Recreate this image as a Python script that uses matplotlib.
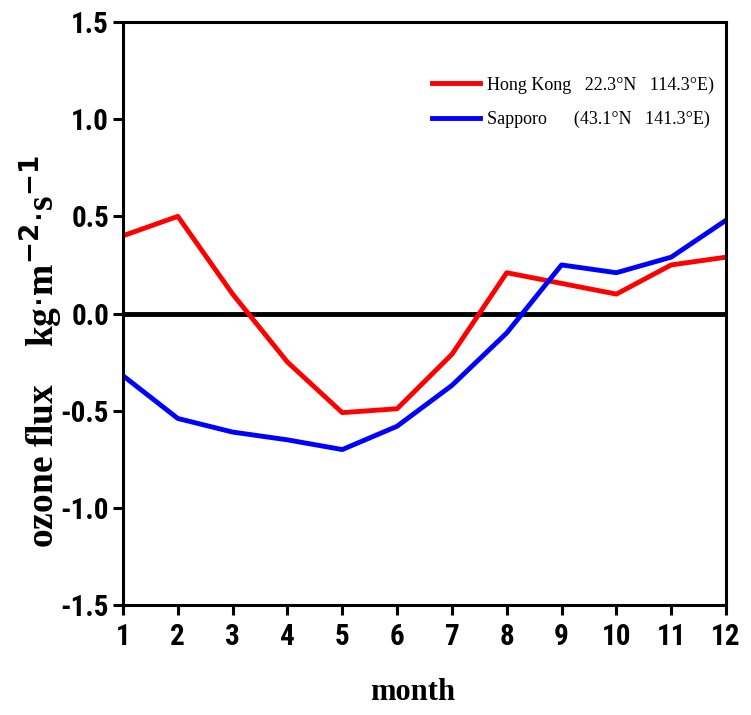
import numpy as np
import matplotlib
matplotlib.use('Agg')
from matplotlib import pyplot as plt

months = np.arange(1, 13)
hong_kong = [0.40, 0.50, 0.10, -0.25, -0.51, -0.49, -0.21, 0.21, 0.155, 0.10, 0.25, 0.29]
sapporo = [-0.32, -0.54, -0.61, -0.65, -0.70, -0.58, -0.37, -0.10, 0.25, 0.21, 0.29, 0.48]
labels = ['Hong Kong   22.3°N   114.3°E)', 'Sapporo      (43.1°N   141.3°E)']
yticks = [-1.5, -1.0, -0.5, 0.0, 0.5, 1.0, 1.5]

tick_font = 'Roboto Condensed'
serif = 'Liberation Serif'

fig = plt.figure(figsize=(7.51, 7.15), dpi=100)
ax = fig.add_axes([0.1638, 0.1538, 0.8029, 0.8154])

ax.plot(months, hong_kong, color='red', linewidth=3.5, label=labels[0])
ax.plot(months, sapporo, color='blue', linewidth=3.5, label=labels[1])
ax.axhline(0, color='black', linewidth=3.5, zorder=1)  # zero line

ax.set_xlim(1, 12)
ax.set_ylim(-1.5, 1.5)
ax.set_xticks(months)
ax.set_yticks(yticks)
ax.set_yticklabels(['%.1f' % v for v in yticks])
for s in ax.spines.values():
    s.set_linewidth(2.2)
ax.tick_params(direction='out', length=7, width=2.2)
ax.tick_params(axis='x', pad=6)
ax.tick_params(axis='y', pad=3)
for t in ax.get_xticklabels() + ax.get_yticklabels():
    t.set_family(tick_font)
    t.set_weight('bold')
    t.set_size(21)

ax.set_xlabel('month', family=serif, weight='bold', size=22, labelpad=24)
ax.xaxis.set_label_coords(0.481, -0.125)
fig.text(0.055, 0.508, r'ozone flux    kg$\cdot$m$^{\mathbf{-2}}$$\cdot$s$^{\mathbf{-1}}$',
         rotation=90, ha='center', va='center', family=serif, weight='bold', size=27)

ax.legend(loc='upper left', bbox_to_anchor=(0.512, 0.907), frameon=False,
          borderaxespad=0, borderpad=0,
          prop={'family': serif, 'size': 13}, handlelength=2.7,
          handletextpad=0.35, labelspacing=0.95)

fig.savefig('out.png', dpi=100)
